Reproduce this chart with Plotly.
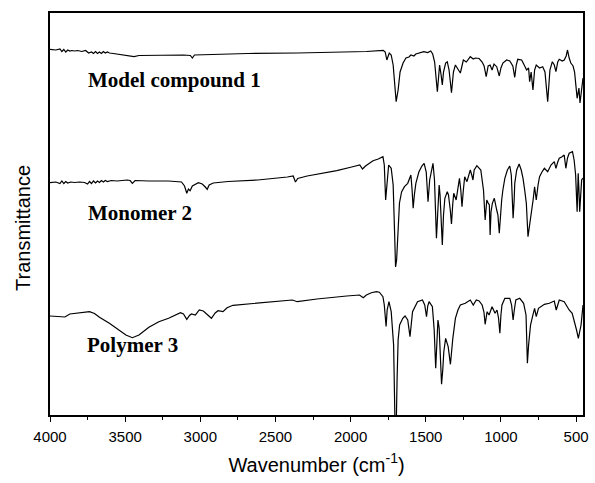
import plotly.graph_objects as go

# ---- Data (wavenumber in cm^-1, transmittance in arbitrary units, offset per trace)
model_wn = [4000, 3961, 3934, 3921, 3908, 3895, 3882, 3868, 3855, 3836, 3816, 3789, 3763, 3743, 3724, 3711,
            3697, 3684, 3671, 3658, 3645, 3632, 3618, 3605, 3579, 3553, 3507, 3441, 3408, 3276, 3112, 3066,
            3053, 3039, 2947, 2684, 2355, 2092, 1895, 1783, 1770, 1759, 1743, 1730, 1717, 1697, 1684, 1671,
            1651, 1632, 1612, 1599, 1579, 1566, 1539, 1513, 1487, 1467, 1454, 1441, 1423, 1414, 1408, 1398,
            1390, 1382, 1368, 1357, 1345, 1329, 1316, 1303, 1290, 1270, 1250, 1230, 1204, 1184, 1171, 1145,
            1125, 1112, 1098, 1085, 1072, 1059, 1046, 1028, 1011, 1000, 987, 962, 941, 921, 908, 898, 888,
            862, 842, 829, 816, 809, 799, 787, 776, 765, 743, 722, 707, 689, 674, 658, 645, 634, 622, 612,
            592, 579, 566, 557, 546, 535, 520, 510, 493, 481, 474, 466, 459, 454]
model_t = [365.7, 365, 366, 363.5, 365.5, 363, 365, 364, 364.5, 364, 364.5, 363.5, 364.5, 362, 363, 361.5,
           363.5, 361.5, 363, 361.5, 363.5, 362, 363, 362, 361.5, 361, 360, 358.3, 359.5, 360, 360, 359.5,
           357, 360, 360.5, 361.5, 362, 362.5, 363.5, 364.7, 363, 355, 362, 360, 350, 313.3, 325, 343,
           352, 357, 358, 360, 359, 361, 362, 363.3, 362.5, 364, 361, 353, 323.3, 345, 350, 340,
           330, 343, 352, 353.3, 345, 322.3, 343, 350, 347, 342, 355, 353, 358.3, 356, 357, 356.5,
           353, 349, 338.3, 349, 350, 345, 351, 348.3, 339, 347, 352, 355, 354, 349, 337.7, 350, 355.7,
           355, 349, 345, 347, 333.3, 343, 325, 345, 350, 347, 348.3, 343, 313.3, 345, 353.3, 350, 343.3, 353, 355.7,
           354, 355, 359, 365, 357, 352, 349, 343, 316.7, 327, 312, 325, 335, 337]

monomer_wn = [4000, 3961, 3934, 3921, 3908, 3895, 3882, 3862, 3836, 3803, 3770, 3750, 3737, 3724, 3711, 3697,
              3684, 3671, 3658, 3645, 3632, 3618, 3592, 3553, 3487, 3467, 3452, 3434, 3342, 3211, 3125, 3105,
              3090, 3079, 3068, 3053, 3013, 2987, 2967, 2954, 2941, 2914, 2816, 2618, 2421, 2382, 2367, 2352,
              2289, 2092, 1993, 1939, 1921, 1901, 1851, 1816, 1785, 1776, 1767, 1759, 1747, 1730, 1717, 1708,
              1701, 1694, 1684, 1675, 1661, 1642, 1620, 1608, 1599, 1591, 1584, 1576, 1566, 1546, 1526, 1511,
              1497, 1485, 1474, 1452, 1442, 1429, 1418, 1411, 1405, 1390, 1382, 1373, 1357, 1349, 1337, 1329,
              1321, 1314, 1298, 1286, 1276, 1267, 1259, 1250, 1241, 1226, 1204, 1194, 1186, 1178, 1160, 1134,
              1116, 1105, 1094, 1085, 1077, 1072, 1066, 1057, 1044, 1028, 1020, 1011, 1003, 995, 987, 974,
              957, 941, 931, 919, 912, 908, 895, 879, 865, 853, 842, 831, 820, 809, 798, 786, 776, 765, 753,
              743, 727, 711, 689, 667, 645, 634, 622, 612, 596, 579, 568, 557, 546, 524, 513, 503, 493, 486,
              481, 476, 463, 454]
monomer_t = [232.3, 233, 231.5, 234, 231.5, 233.5, 232, 233, 232.5, 233, 232.5, 231, 233.5, 231.5, 234, 232,
             234, 232.5, 234.5, 233, 234.5, 233.5, 234.5, 234, 235, 234.5, 231.7, 234.5, 234, 234, 233, 229,
             221.7, 226, 224.3, 229, 232.3, 231, 228, 225.7, 230, 232, 233.5, 235, 238, 239, 233, 236.5,
             239, 244.3, 248, 250, 246, 249, 254.3, 256, 258.3, 250, 215, 230, 250, 246.7, 230, 185,
             148, 155, 190, 212, 223, 228.3, 231.7, 237, 240, 225, 206.7, 220, 231.7, 243, 249, 251.7,
             243, 213.3, 235, 251.7, 235, 176.7, 215, 230, 220, 170, 200, 216.7, 223.3, 220, 205, 191,
             210, 221.7, 215, 230, 236.7, 225, 208.3, 225, 238.3, 233.3, 245, 240, 235, 245, 249.3, 245,
             225, 195, 215, 212, 210, 180, 203, 211.7, 216.7, 205, 200, 181.7, 200, 215, 225, 236.7,
             245, 249, 240, 196.7, 215, 231.7, 245, 251, 245, 236.7, 225, 211.7, 178.3, 190, 198.3, 215, 228.3, 215, 230,
             238.3, 243, 246.7, 243.3, 250, 253.3, 246.7, 253, 256.7, 258, 260, 246.7, 257, 261.7, 263.3, 255, 240, 203.3, 241.7,
             225, 203.3, 235, 237]

polymer_wn = [4000, 3934, 3901, 3868, 3803, 3737, 3704, 3671, 3605, 3539, 3495, 3452, 3408, 3342, 3276, 3211,
              3132, 3112, 3090, 3072, 3059, 3033, 3007, 2980, 2954, 2926, 2901, 2882, 2849, 2822, 2783, 2618,
              2388, 2355, 2224, 2026, 1941, 1916, 1895, 1862, 1829, 1809, 1785, 1776, 1764, 1757, 1745, 1730,
              1714, 1704, 1697, 1691, 1684, 1674, 1653, 1638, 1620, 1605, 1588, 1555, 1522, 1507, 1495, 1487,
              1478, 1456, 1444, 1434, 1428, 1419, 1411, 1403, 1395, 1387, 1380, 1368, 1359, 1351, 1336, 1328,
              1320, 1303, 1286, 1270, 1237, 1204, 1184, 1164, 1145, 1125, 1113, 1105, 1099, 1092, 1079, 1059,
              1039, 1026, 1016, 1007, 1000, 993, 974, 941, 929, 919, 911, 901, 875, 849, 833, 824, 816, 803,
              790, 776, 765, 750, 711, 678, 645, 632, 612, 579, 566, 546, 526, 513, 497, 485, 467, 454]
polymer_t = [99, 98.3, 98, 101, 102, 103.3, 101.5, 97.7, 91.7, 85, 80, 77.3, 80, 87.7, 93.3, 96.7,
             102.3, 101, 95.7, 99.5, 101, 100, 105, 104, 100, 96.7, 102, 104.3, 103.3, 107.3, 109.7, 111.7,
             115, 113.3, 116, 119, 120, 117.2, 120, 122.3, 123.3, 122.8, 118.3, 110, 88.5, 105, 113.3, 103.3,
             70, -15, -15, 35, 75, 90, 96.7, 99, 95, 78.3, 103.3, 113.3, 115, 110, 98.3, 109,
             113.3, 108.3, 85, 46.7, 70, 95, 87, 55, 30.7, 45, 63.3, 76.7, 73, 68.3, 50.7, 65,
             76.7, 96.7, 105, 110, 111.7, 115, 110, 115, 114, 110, 103, 90.7, 100, 103.3, 100, 108.3,
             101.7, 105, 97, 81.7, 100, 110, 116.7, 116.7, 110, 95, 105, 115, 116.7, 111.7, 100, 51.7, 70, 90,
             98.3, 106.7, 98.3, 106.7, 110.7, 111.7, 114, 105, 115, 113.3, 110, 105, 101.7, 95, 85, 76.7, 90, 110]

labels = ["Model compound 1", "Monomer 2", "Polymer 3"]
label_wn = [3762, 3762, 3768]
label_t = [335, 202, 70]

xticks = [4000, 3500, 3000, 2500, 2000, 1500, 1000, 500]

fig = go.Figure()
for wn, t, name in [(model_wn, model_t, labels[0]), (monomer_wn, monomer_t, labels[1]),
                    (polymer_wn, polymer_t, labels[2])]:
    fig.add_trace(go.Scatter(x=wn, y=t, mode="lines", name=name,
                             line=dict(color="black", width=1.2), showlegend=False))

for txt, xw, yt in zip(labels, label_wn, label_t):
    fig.add_annotation(x=xw, y=yt, text="<b>" + txt + "</b>", showarrow=False,
                       xanchor="left", yanchor="middle",
                       font=dict(family="Liberation Serif, Times New Roman, serif", size=21, color="black"))

# y-axis title as a rotated annotation (sits slightly below the plot centre in the reference)
fig.add_annotation(x=-0.052, y=0.466, xref="paper", yref="paper", text="Transmittance",
                   textangle=-90, showarrow=False, xanchor="center", yanchor="middle",
                   font=dict(family="Liberation Sans, Arial, sans-serif", size=20, color="black"))

fig.update_layout(
    width=595, height=483,
    margin=dict(l=50, r=6, t=13, b=68),
    paper_bgcolor="white", plot_bgcolor="white",
    font=dict(family="Liberation Sans, Arial, sans-serif", color="black"),
)
fig.update_xaxes(
    range=[4000, 454], tickvals=xticks, ticktext=[str(v) for v in xticks],
    ticks="outside", ticklen=5, tickwidth=1.2, tickcolor="black", ticklabelstandoff=2,
    minor=dict(dtick=250, ticks="outside", ticklen=3, tickwidth=1, tickcolor="black"),
    showline=True, linecolor="black", linewidth=1.5, mirror=True,
    showgrid=False, zeroline=False,
    tickfont=dict(size=15, color="black"),
    title=dict(text="Wavenumber (cm<sup>-1</sup>)", font=dict(size=20, color="black"), standoff=14),
)
fig.update_yaxes(
    range=[0, 402], showticklabels=False, ticks="",
    showline=True, linecolor="black", linewidth=1.5, mirror=True,
    showgrid=False, zeroline=False,
)

fig.write_html("out.html")
